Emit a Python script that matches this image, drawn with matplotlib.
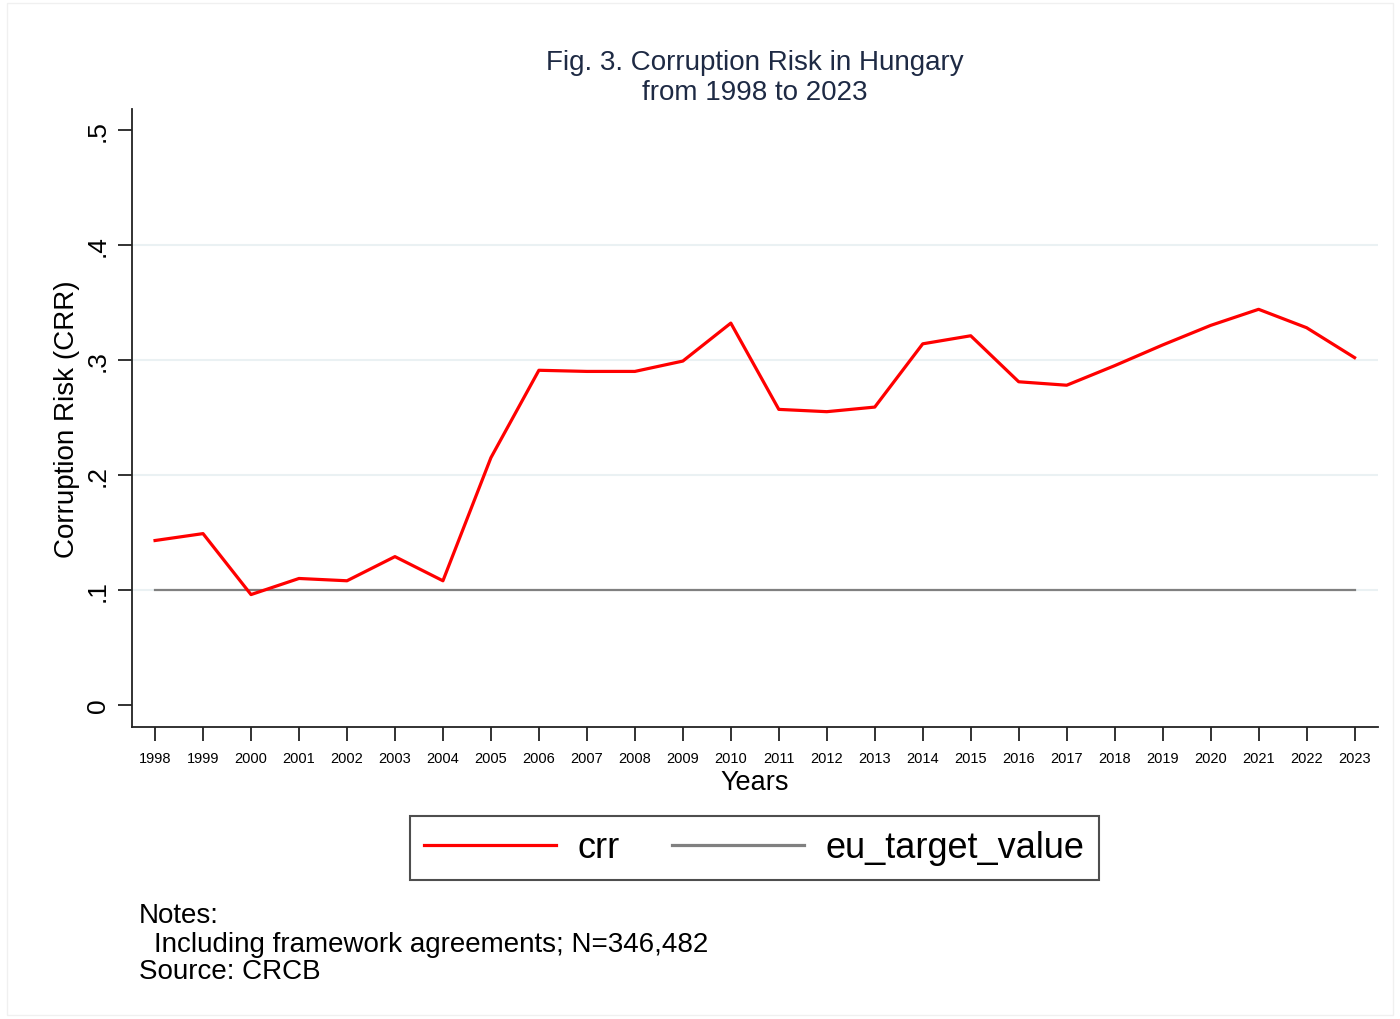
import matplotlib
matplotlib.use("Agg")
import matplotlib.pyplot as plt
from matplotlib.patches import Rectangle

years = list(range(1998, 2024))
crr = [0.143, 0.149, 0.096, 0.110, 0.108, 0.129, 0.108, 0.215, 0.291, 0.290,
       0.290, 0.299, 0.332, 0.257, 0.255, 0.259, 0.314, 0.321, 0.281, 0.278,
       0.295, 0.313, 0.330, 0.344, 0.328, 0.302]
eu_target_value = [0.1] * len(years)
y_ticks = [0, 0.1, 0.2, 0.3, 0.4, 0.5]
y_tick_labels = ["0", ".1", ".2", ".3", ".4", ".5"]

plt.rcParams['font.family'] = ['Liberation Sans', 'DejaVu Sans']

fig = plt.figure(figsize=(14, 10.2), dpi=100)
fig.patches.append(Rectangle((0.005, 0.004), 0.99, 0.992, transform=fig.transFigure,
                             fill=False, edgecolor='#f0f0f0', linewidth=1))

ax = fig.add_axes([0.0943, 0.2863, 0.8897, 0.6057])

for v in [0.1, 0.2, 0.3, 0.4]:
    ax.axhline(v, color='#eaf1f3', linewidth=1.5, zorder=0)

ax.plot(years, crr, color='#ff0000', linewidth=2.3, label='crr', zorder=3)
ax.plot(years, eu_target_value, color='#808080', linewidth=1.6, label='eu_target_value', zorder=2)

ax.set_xlim(1997.52, 2023.48)
ax.set_ylim(-0.0191, 0.518)

ax.set_yticks(y_ticks)
ax.set_yticklabels(y_tick_labels, rotation=90, va='center', fontsize=19)
ax.set_xticks(years)
ax.set_xticklabels([str(y) for y in years], fontsize=10.5)
ax.tick_params(axis='both', direction='out', length=10, width=1.3, color='#222222')
ax.tick_params(axis='y', pad=6)
ax.tick_params(axis='x', pad=7)

for s in ['top', 'right']:
    ax.spines[s].set_visible(False)
for s in ['left', 'bottom']:
    ax.spines[s].set_linewidth(1.3)
    ax.spines[s].set_color('#222222')

ax.set_xlabel("Years", fontsize=19.5, labelpad=3)
ax.set_ylabel("Corruption Risk (CRR)", fontsize=20, labelpad=4)

fig.text(0.539, 0.924, "Fig. 3. Corruption Risk in Hungary\nfrom 1998 to 2023",
         ha='center', va='center', fontsize=20, color='#1e2a44', linespacing=1.2)

leg = fig.legend(loc='center', bbox_to_anchor=(0.539, 0.168), ncol=2, fontsize=26,
                 frameon=True, fancybox=False, edgecolor='#222222', handlelength=3.65,
                 columnspacing=1.45, handletextpad=0.6, borderpad=0.4, borderaxespad=0)
leg.get_frame().set_linewidth(1.5)
for line in leg.get_lines():
    line.set_linewidth(2.3)

fig.text(0.099, 0.102, "Notes:", fontsize=20, va='center')
fig.text(0.110, 0.074, "Including framework agreements; N=346,482", fontsize=20, va='center')
fig.text(0.099, 0.047, "Source: CRCB", fontsize=20, va='center')

fig.savefig("out.png", dpi=100, facecolor='white')
